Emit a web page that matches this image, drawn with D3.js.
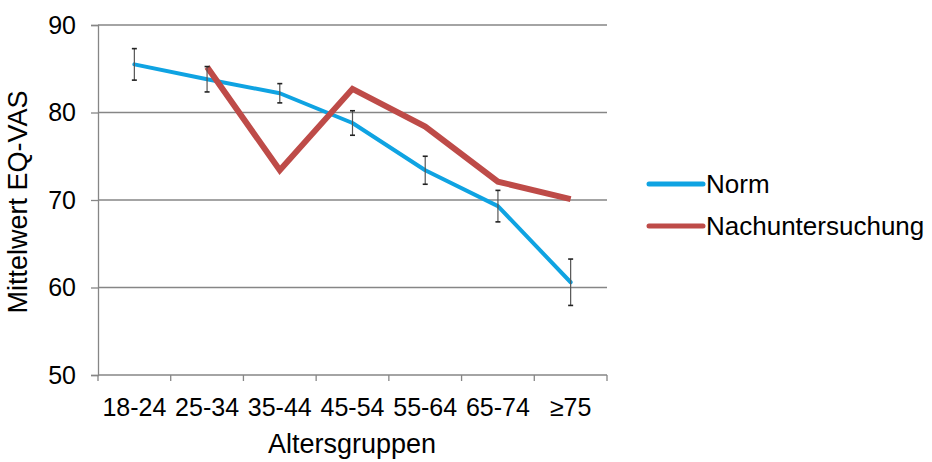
<!DOCTYPE html>
<html>
<head>
<meta charset="utf-8">
<script src="https://cdn.jsdelivr.net/npm/d3@7"></script>
<style>
  html, body { margin: 0; padding: 0; background: #fff; }
  svg { display: block; font-family: "Liberation Sans", Arial, sans-serif; }
</style>
</head>
<body>
<svg id="chart" width="932" height="462"></svg>
<script>
// Age groups on the x axis
const categories = ["18-24", "25-34", "35-44", "45-54", "55-64", "65-74", "≥75"];
// Reference population mean EQ-VAS and its error margin
const normValues = [85.5, 83.8, 82.2, 78.8, 73.4, 69.3, 60.6];
const normError = [1.8, 1.45, 1.1, 1.4, 1.6, 1.8, 2.65];
// Follow-up examination means (no value for the youngest group)
const followUpValues = [null, 85.2, 73.4, 82.7, 78.4, 72.1, 70.1];
const yTicks = [50, 60, 70, 80, 90];
const seriesNames = ["Norm", "Nachuntersuchung"];

const svg = d3.select("#chart");
const plotLeft = 98, plotRight = 607, plotTop = 25, plotBottom = 375;
const tickFont = 25, titleFont = 27, legendFont = 26;

const x = d3.scaleBand().domain(categories).range([plotLeft, plotRight]);
const y = d3.scaleLinear().domain([50, 90]).range([plotBottom, plotTop]);
const axisColor = "#868686";

// Horizontal gridlines
svg.append("g").selectAll("line")
  .data(yTicks.filter(d => d > 50))
  .join("line")
  .attr("x1", plotLeft).attr("x2", plotRight)
  .attr("y1", d => y(d)).attr("y2", d => y(d))
  .attr("stroke", axisColor).attr("stroke-width", 1.3);

// Y axis
const yAxis = svg.append("g")
  .attr("transform", `translate(${plotLeft},0)`)
  .call(d3.axisLeft(y).tickValues(yTicks).tickSize(7).tickPadding(15));
yAxis.select(".domain").attr("stroke", axisColor).attr("stroke-width", 1.3);
yAxis.selectAll(".tick line").attr("stroke", axisColor).attr("stroke-width", 1.3);
yAxis.selectAll("text").attr("font-size", tickFont).attr("fill", "#000")
  .attr("font-family", "Liberation Sans, Arial, sans-serif");

// X axis with ticks at category boundaries
const xAxisG = svg.append("g").attr("transform", `translate(0,${plotBottom})`);
xAxisG.append("line").attr("x1", plotLeft).attr("x2", plotRight)
  .attr("stroke", axisColor).attr("stroke-width", 1.3);
const boundaries = categories.map(c => x(c)).concat([plotRight]);
xAxisG.selectAll("line.tk").data(boundaries).join("line").attr("class", "tk")
  .attr("x1", d => d).attr("x2", d => d).attr("y1", 0).attr("y2", 6)
  .attr("stroke", axisColor).attr("stroke-width", 1.3);
xAxisG.selectAll("text").data(categories).join("text")
  .attr("x", d => x(d) + x.bandwidth() / 2)
  .attr("y", 41)
  .attr("text-anchor", "middle")
  .attr("font-size", tickFont).attr("fill", "#000")
  .text(d => d);

// Axis titles
svg.append("text")
  .attr("x", 352).attr("y", 453)
  .attr("text-anchor", "middle").attr("font-size", titleFont).attr("fill", "#000")
  .text("Altersgruppen");
svg.append("text")
  .attr("transform", `translate(27,202) rotate(-90)`)
  .attr("text-anchor", "middle").attr("font-size", titleFont).attr("fill", "#000")
  .text("Mittelwert EQ-VAS");

const cx = c => x(c) + x.bandwidth() / 2;
const blue = "#0FA3E2", red = "#BE4B48";

// Norm line
const normData = categories.map((c, i) => ({ c, v: normValues[i], e: normError[i] }));
svg.append("path")
  .datum(normData)
  .attr("fill", "none").attr("stroke", blue).attr("stroke-width", 4)
  .attr("stroke-linejoin", "round").attr("stroke-linecap", "round")
  .attr("d", d3.line().x(d => cx(d.c)).y(d => y(d.v)));

// Follow-up line
const fuData = categories.map((c, i) => ({ c, v: followUpValues[i] }));
svg.append("path")
  .datum(fuData)
  .attr("fill", "none").attr("stroke", red).attr("stroke-width", 6)
  .attr("stroke-linejoin", "miter").attr("stroke-linecap", "butt")
  .attr("d", d3.line().defined(d => d.v != null).x(d => cx(d.c)).y(d => y(d.v)));

// Error bars for the norm series
const eb = svg.append("g").selectAll("g").data(normData).join("g");
eb.append("line")
  .attr("x1", d => cx(d.c)).attr("x2", d => cx(d.c))
  .attr("y1", d => y(d.v + d.e)).attr("y2", d => y(d.v - d.e))
  .attr("stroke", "#555").attr("stroke-width", 1.2);
eb.selectAll("line.cap")
  .data(d => [d.v + d.e, d.v - d.e].map(v => ({ c: d.c, v })))
  .join("line").attr("class", "cap")
  .attr("x1", d => cx(d.c) - 2.5).attr("x2", d => cx(d.c) + 2.5)
  .attr("y1", d => y(d.v)).attr("y2", d => y(d.v))
  .attr("stroke", "#222").attr("stroke-width", 1.6);

// Legend
const legend = svg.append("g");
const legendRows = [
  { name: seriesNames[0], color: blue, yPos: 184 },
  { name: seriesNames[1], color: red, yPos: 226 }
];
legendRows.forEach(r => {
  legend.append("line")
    .attr("x1", 649).attr("x2", 703).attr("y1", r.yPos).attr("y2", r.yPos)
    .attr("stroke", r.color).attr("stroke-width", 5).attr("stroke-linecap", "round");
  legend.append("text")
    .attr("x", 706).attr("y", r.yPos + 9)
    .attr("font-size", legendFont).attr("fill", "#000")
    .text(r.name);
});
</script>
</body>
</html>
